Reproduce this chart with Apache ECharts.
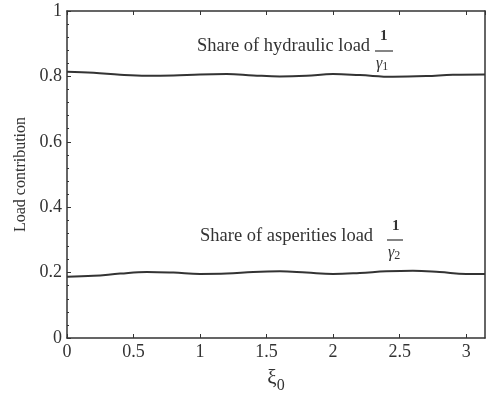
<!DOCTYPE html>
<html><head><meta charset="utf-8">
<script src="https://cdn.jsdelivr.net/npm/echarts@6/dist/echarts.min.js"></script>
<style>html,body{margin:0;padding:0;background:#fff}#c{width:486px;height:394px}</style>
</head><body><div id="c"></div>
<script>
const xiUpper = [0, 0.2, 0.4, 0.6, 0.8, 1.0, 1.2, 1.4, 1.6, 1.8, 2.0, 2.2, 2.45, 2.7, 2.9, 3.14159];
const hydraulicShare = [0.814, 0.811, 0.805, 0.802, 0.803, 0.806, 0.807, 0.803, 0.800, 0.802, 0.807, 0.804, 0.799, 0.801, 0.805, 0.806];
const xiLower = [0, 0.2, 0.4, 0.6, 0.8, 1.0, 1.2, 1.4, 1.6, 1.8, 2.0, 2.2, 2.4, 2.6, 2.8, 3.0, 3.14159];
const asperitiesShare = [0.187, 0.190, 0.197, 0.202, 0.200, 0.196, 0.197, 0.202, 0.204, 0.200, 0.196, 0.199, 0.204, 0.206, 0.202, 0.196, 0.196];
const xTicks = ['0','0.5','1','1.5','2','2.5','3'];
const yTicks = ['0','0.2','0.4','0.6','0.8','1'];

const F = '"Liberation Serif","Times New Roman",serif';
const C = '#333';
const chart = echarts.init(document.getElementById('c'), null, {renderer:'canvas'});
const pair = (xs, ys) => xs.map((x,i)=>[x, ys[i]]);
const axisCommon = {
  axisLine:{show:true, onZero:false, lineStyle:{color:C, width:1.5}},
  axisTick:{show:true, inside:true, length:4, lineStyle:{color:C}},
  splitLine:{show:false}
};
const fmt = list => v => {const s=list.find(t=>Math.abs(parseFloat(t)-v)<1e-6);return s===undefined?'':s;};
chart.setOption({
  animation:false,
  grid:{left:67, right:1, top:11, bottom:56, containLabel:false, outerBoundsMode:'none'},
  xAxis:[
    Object.assign({type:'value', min:0, max:Math.PI, interval:0.5, position:'bottom',
      name:'{a|ξ}{b|0}', nameLocation:'middle', nameGap:24,
      nameTextStyle:{rich:{a:{fontFamily:F, fontSize:21, color:C}, b:{fontFamily:F, fontSize:16, color:C, padding:[16,0,0,0]}}},
      axisLabel:{fontFamily:F, fontSize:18, color:C, margin:5, showMaxLabel:false, formatter:fmt(xTicks)}
    }, axisCommon),
    Object.assign({type:'value', min:0, max:Math.PI, interval:0.5, position:'top', axisLabel:{show:false}}, axisCommon)
  ],
  yAxis:[
    Object.assign({type:'value', min:0, max:1, interval:0.2, position:'left',
      name:'Load contribution', nameLocation:'middle', nameGap:38,
      nameTextStyle:{fontFamily:F, fontSize:16, color:C},
      minorTick:{show:true, splitNumber:5, length:2, lineStyle:{color:C}},
      axisLabel:{fontFamily:F, fontSize:18, color:C, margin:5, formatter:fmt(yTicks)}
    }, axisCommon),
    Object.assign({type:'value', min:0, max:1, interval:0.2, position:'right', axisLabel:{show:false}, axisTick:{show:false}}, {axisLine:axisCommon.axisLine, splitLine:{show:false}})
  ],
  series:[
    {type:'line', data:pair(xiUpper, hydraulicShare), smooth:0.4, showSymbol:false, lineStyle:{color:C, width:2}},
    {type:'line', data:pair(xiLower, asperitiesShare), smooth:0.4, showSymbol:false, lineStyle:{color:C, width:2}}
  ],
  graphic:[
    {type:'text', left:197, top:37, style:{text:'Share of hydraulic load', font:'18.5px '+F, fill:C}},
    {type:'text', left:380, top:29, style:{text:'1', font:'bold 15px '+F, fill:C}},
    {type:'line', shape:{x1:375, y1:51, x2:393, y2:51}, style:{stroke:C, lineWidth:1.2}},
    {type:'text', left:376, top:56, style:{text:'{g|γ}{s|1}', rich:{g:{font:'italic 16px '+F, fill:C}, s:{font:'12px '+F, fill:C, padding:[5,0,0,0]}}}},
    {type:'text', left:200, top:227, style:{text:'Share of asperities load', font:'18.5px '+F, fill:C}},
    {type:'text', left:392, top:219, style:{text:'1', font:'bold 15px '+F, fill:C}},
    {type:'line', shape:{x1:387, y1:240, x2:403, y2:240}, style:{stroke:C, lineWidth:1.2}},
    {type:'text', left:388, top:245, style:{text:'{g|γ}{s|2}', rich:{g:{font:'italic 16px '+F, fill:C}, s:{font:'12px '+F, fill:C, padding:[5,0,0,0]}}}}
  ]
});
</script></body></html>
